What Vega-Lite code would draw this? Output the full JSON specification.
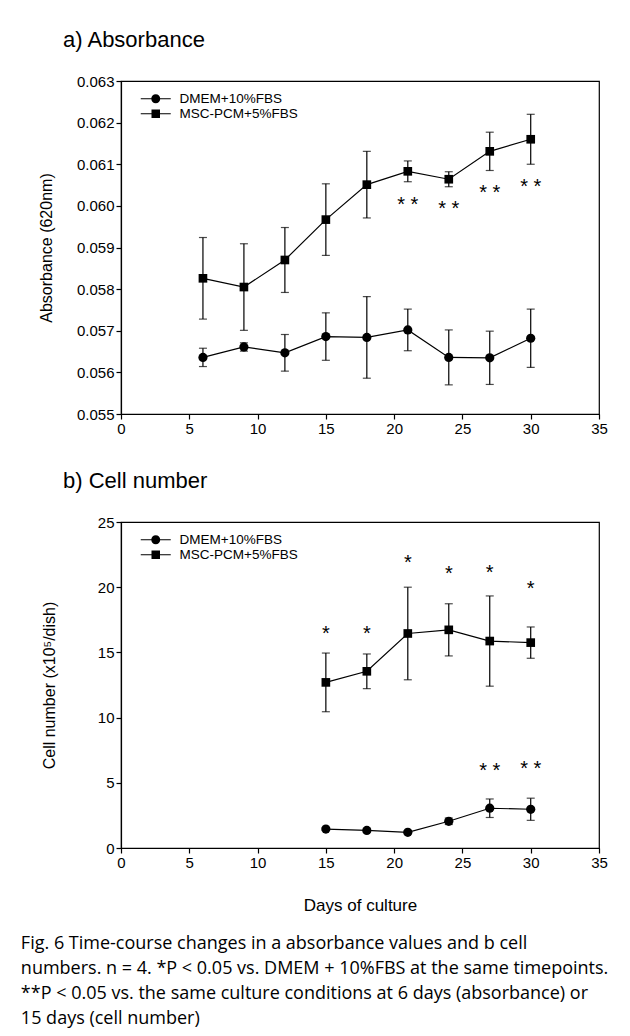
{
  "$schema": "https://vega.github.io/schema/vega-lite/v6.json",
  "background": "white",
  "padding": {"left": 20, "top": 28, "right": 5, "bottom": 5},
  "autosize": {"type": "pad"},
  "config": {
    "font": "Liberation Sans",
    "view": {"stroke": "black", "strokeWidth": 1.2},
    "axis": {"domainColor": "black", "domainWidth": 1.2, "tickColor": "black", "tickSize": 5, "tickWidth": 1.2, "labelColor": "black", "labelFont": "Liberation Sans", "labelFontSize": 15, "titleFont": "Liberation Sans", "titleFontSize": 16, "titleFontWeight": "normal", "titleColor": "black", "grid": false, "labelFlush": false, "labelOverlap": false},
    "legend": {"orient": "none", "legendX": 28, "legendY": 11, "title": null, "symbolSize": 100, "labelFontSize": 13.5, "labelFont": "Liberation Sans", "labelColor": "black", "labelOffset": 17, "symbolOpacity": 1, "symbolFillColor": "black", "symbolStrokeColor": "black", "symbolStrokeWidth": 0, "rowPadding": 0, "padding": 0},
    "concat": {"spacing": 32}
  },
  "datasets": {
    "abs": [
      {"series": "DMEM+10%FBS", "day": 6, "mean": 0.05636, "err": 0.00022},
      {"series": "DMEM+10%FBS", "day": 9, "mean": 0.05661, "err": 0.0001},
      {"series": "DMEM+10%FBS", "day": 12, "mean": 0.05647, "err": 0.00044},
      {"series": "DMEM+10%FBS", "day": 15, "mean": 0.05686, "err": 0.00057},
      {"series": "DMEM+10%FBS", "day": 18, "mean": 0.05684, "err": 0.00098},
      {"series": "DMEM+10%FBS", "day": 21, "mean": 0.05702, "err": 0.0005},
      {"series": "DMEM+10%FBS", "day": 24, "mean": 0.05636, "err": 0.00066},
      {"series": "DMEM+10%FBS", "day": 27, "mean": 0.05635, "err": 0.00064},
      {"series": "DMEM+10%FBS", "day": 30, "mean": 0.05682, "err": 0.0007},
      {"series": "MSC-PCM+5%FBS", "day": 6, "mean": 0.05826, "err": 0.00098},
      {"series": "MSC-PCM+5%FBS", "day": 9, "mean": 0.05805, "err": 0.00104},
      {"series": "MSC-PCM+5%FBS", "day": 12, "mean": 0.0587, "err": 0.00078},
      {"series": "MSC-PCM+5%FBS", "day": 15, "mean": 0.05967, "err": 0.00086},
      {"series": "MSC-PCM+5%FBS", "day": 18, "mean": 0.06051, "err": 0.0008},
      {"series": "MSC-PCM+5%FBS", "day": 21, "mean": 0.06083, "err": 0.00025},
      {"series": "MSC-PCM+5%FBS", "day": 24, "mean": 0.06064, "err": 0.00018},
      {"series": "MSC-PCM+5%FBS", "day": 27, "mean": 0.06131, "err": 0.00046},
      {"series": "MSC-PCM+5%FBS", "day": 30, "mean": 0.0616, "err": 0.0006}
    ],
    "cell": [
      {"series": "DMEM+10%FBS", "day": 15, "mean": 1.45, "err": 0.1},
      {"series": "DMEM+10%FBS", "day": 18, "mean": 1.35, "err": 0.12},
      {"series": "DMEM+10%FBS", "day": 21, "mean": 1.2, "err": 0.1},
      {"series": "DMEM+10%FBS", "day": 24, "mean": 2.05, "err": 0.25},
      {"series": "DMEM+10%FBS", "day": 27, "mean": 3.05, "err": 0.71},
      {"series": "DMEM+10%FBS", "day": 30, "mean": 2.97, "err": 0.85},
      {"series": "MSC-PCM+5%FBS", "day": 15, "mean": 12.7, "err": 2.25},
      {"series": "MSC-PCM+5%FBS", "day": 18, "mean": 13.55, "err": 1.33},
      {"series": "MSC-PCM+5%FBS", "day": 21, "mean": 16.45, "err": 3.55},
      {"series": "MSC-PCM+5%FBS", "day": 24, "mean": 16.73, "err": 2.0},
      {"series": "MSC-PCM+5%FBS", "day": 27, "mean": 15.87, "err": 3.46},
      {"series": "MSC-PCM+5%FBS", "day": 30, "mean": 15.75, "err": 1.2}
    ],
    "absStars": [
      {"day": 21, "y": 0.06016, "label": "* *"},
      {"day": 24, "y": 0.06006, "label": "* *"},
      {"day": 27, "y": 0.06044, "label": "* *"},
      {"day": 30, "y": 0.06058, "label": "* *"}
    ],
    "cellStars": [
      {"day": 15, "y": 16.85, "label": "*"},
      {"day": 18, "y": 16.85, "label": "*"},
      {"day": 21, "y": 22.3, "label": "*"},
      {"day": 24, "y": 21.4, "label": "*"},
      {"day": 27, "y": 21.5, "label": "*"},
      {"day": 30, "y": 20.3, "label": "*"},
      {"day": 27, "y": 6.3, "label": "* *"},
      {"day": 30, "y": 6.5, "label": "* *"}
    ]
  },
  "vconcat": [
    {
      "width": 478,
      "height": 333,
      "title": {"text": "a) Absorbance", "anchor": "start", "frame": "group", "dx": -58, "offset": 5, "baseline": "alphabetic", "fontSize": 22, "fontWeight": "normal", "font": "Liberation Sans", "color": "black"},
      "layer": [
        {
          "data": {"name": "abs"},
          "mark": {"type": "line", "color": "black", "strokeWidth": 1.2},
          "encoding": {
            "x": {"field": "day", "type": "quantitative", "scale": {"domain": [0, 35], "nice": false}, "axis": {"values": [0, 5, 10, 15, 20, 25, 30, 35], "title": null, "labelPadding": 2}},
            "y": {"field": "mean", "type": "quantitative", "title": "Absorbance (620nm)", "scale": {"domain": [0.055, 0.063], "nice": false, "zero": false}, "axis": {"values": [0.055, 0.056, 0.057, 0.058, 0.059, 0.06, 0.061, 0.062, 0.063], "format": ".3f", "title": "Absorbance (620nm)", "titlePadding": 22, "labelPadding": 2}},
            "detail": {"field": "series", "type": "nominal"}
          }
        },
        {
          "data": {"name": "abs"},
          "mark": {"type": "errorbar", "color": "black", "thickness": 1.2, "ticks": {"size": 8, "color": "black"}},
          "encoding": {
            "x": {"field": "day", "type": "quantitative", "title": null},
            "y": {"field": "mean", "type": "quantitative", "title": "Absorbance (620nm)"},
            "yError": {"field": "err"},
            "detail": {"field": "series", "type": "nominal"}
          }
        },
        {
          "data": {"name": "abs"},
          "transform": [{"filter": "datum.series === 'DMEM+10%FBS'"}],
          "mark": {"type": "point", "shape": "circle", "filled": true, "size": 85, "color": "black", "opacity": 1},
          "encoding": {"x": {"field": "day", "type": "quantitative", "title": null}, "y": {"field": "mean", "type": "quantitative", "title": "Absorbance (620nm)"}}
        },
        {
          "data": {"name": "abs"},
          "transform": [{"filter": "datum.series === 'MSC-PCM+5%FBS'"}],
          "mark": {"type": "point", "shape": "square", "filled": true, "size": 75, "color": "black", "opacity": 1},
          "encoding": {"x": {"field": "day", "type": "quantitative", "title": null}, "y": {"field": "mean", "type": "quantitative", "title": "Absorbance (620nm)"}}
        },
        {
          "data": {"name": "abs"},
          "mark": {"type": "point", "filled": true, "color": "black", "opacity": 0},
          "encoding": {
            "x": {"field": "day", "type": "quantitative", "title": null},
            "y": {"field": "mean", "type": "quantitative", "title": "Absorbance (620nm)"},
            "shape": {"field": "series", "type": "nominal", "scale": {"domain": ["DMEM+10%FBS", "MSC-PCM+5%FBS"], "range": ["M-3,-0.12H3V0.12H-3ZM0.9,0A0.9,0.9,0,1,1,-0.9,0A0.9,0.9,0,1,1,0.9,0Z", "M-3,-0.12H3V0.12H-3ZM-0.85,-0.85H0.85V0.85H-0.85Z"]}, "legend": {"encode": {"symbols": {"fill": {"value": "black"}, "opacity": {"value": 1}}}}}
          }
        },
        {
          "data": {"name": "absStars"},
          "mark": {"type": "text", "fontSize": 20, "baseline": "alphabetic", "dy": 11.4, "color": "black", "font": "Liberation Sans"},
          "encoding": {"x": {"field": "day", "type": "quantitative", "title": null}, "y": {"field": "y", "type": "quantitative", "title": "Absorbance (620nm)"}, "text": {"field": "label"}}
        },
        {
          "mark": {"type": "text", "align": "left", "baseline": "middle", "fontSize": 14, "color": "black", "font": "Liberation Sans"},
          "encoding": {"x": {"datum": 1.25, "type": "quantitative"}, "y": {"datum": 0.0615, "type": "quantitative"}, "text": {"value": "n = 4"}}
        }
      ]
    },
    {
      "width": 478,
      "height": 326,
      "title": {"text": "b) Cell number", "anchor": "start", "frame": "group", "dx": -58, "offset": 5, "baseline": "alphabetic", "fontSize": 22, "fontWeight": "normal", "font": "Liberation Sans", "color": "black"},
      "layer": [
        {
          "data": {"name": "cell"},
          "mark": {"type": "line", "color": "black", "strokeWidth": 1.2},
          "encoding": {
            "x": {"field": "day", "type": "quantitative", "title": "Days of culture", "scale": {"domain": [0, 35], "nice": false}, "axis": {"values": [0, 5, 10, 15, 20, 25, 30, 35], "title": "Days of culture", "titleFontSize": 17, "titlePadding": 27, "labelPadding": 2}},
            "y": {"field": "mean", "type": "quantitative", "title": "Cell number (x10⁵/dish)", "scale": {"domain": [0, 25], "nice": false}, "axis": {"values": [0, 5, 10, 15, 20, 25], "title": "Cell number (x10⁵/dish)", "titlePadding": 40, "labelPadding": 2}},
            "detail": {"field": "series", "type": "nominal"}
          }
        },
        {
          "data": {"name": "cell"},
          "mark": {"type": "errorbar", "color": "black", "thickness": 1.2, "ticks": {"size": 8, "color": "black"}},
          "encoding": {
            "x": {"field": "day", "type": "quantitative", "title": "Days of culture"},
            "y": {"field": "mean", "type": "quantitative", "title": "Cell number (x10⁵/dish)"},
            "yError": {"field": "err"},
            "detail": {"field": "series", "type": "nominal"}
          }
        },
        {
          "data": {"name": "cell"},
          "transform": [{"filter": "datum.series === 'DMEM+10%FBS'"}],
          "mark": {"type": "point", "shape": "circle", "filled": true, "size": 85, "color": "black", "opacity": 1},
          "encoding": {"x": {"field": "day", "type": "quantitative", "title": "Days of culture"}, "y": {"field": "mean", "type": "quantitative", "title": "Cell number (x10⁵/dish)"}}
        },
        {
          "data": {"name": "cell"},
          "transform": [{"filter": "datum.series === 'MSC-PCM+5%FBS'"}],
          "mark": {"type": "point", "shape": "square", "filled": true, "size": 75, "color": "black", "opacity": 1},
          "encoding": {"x": {"field": "day", "type": "quantitative", "title": "Days of culture"}, "y": {"field": "mean", "type": "quantitative", "title": "Cell number (x10⁵/dish)"}}
        },
        {
          "data": {"name": "cell"},
          "mark": {"type": "point", "filled": true, "color": "black", "opacity": 0},
          "encoding": {
            "x": {"field": "day", "type": "quantitative", "title": "Days of culture"},
            "y": {"field": "mean", "type": "quantitative", "title": "Cell number (x10⁵/dish)"},
            "shape": {"field": "series", "type": "nominal", "scale": {"domain": ["DMEM+10%FBS", "MSC-PCM+5%FBS"], "range": ["M-3,-0.12H3V0.12H-3ZM0.9,0A0.9,0.9,0,1,1,-0.9,0A0.9,0.9,0,1,1,0.9,0Z", "M-3,-0.12H3V0.12H-3ZM-0.85,-0.85H0.85V0.85H-0.85Z"]}, "legend": {"encode": {"symbols": {"fill": {"value": "black"}, "opacity": {"value": 1}}}}}
          }
        },
        {
          "data": {"name": "cellStars"},
          "mark": {"type": "text", "fontSize": 20, "baseline": "alphabetic", "dy": 11.4, "color": "black", "font": "Liberation Sans"},
          "encoding": {"x": {"field": "day", "type": "quantitative", "title": "Days of culture"}, "y": {"field": "y", "type": "quantitative", "title": "Cell number (x10⁵/dish)"}, "text": {"field": "label"}}
        },
        {
          "mark": {"type": "text", "align": "left", "baseline": "middle", "fontSize": 14, "color": "black", "font": "Liberation Sans"},
          "encoding": {"x": {"datum": 1.25, "type": "quantitative"}, "y": {"datum": 20, "type": "quantitative"}, "text": {"value": "n = 4"}}
        }
      ]
    }
  ],
  "resolve": {"scale": {"shape": "independent"}, "legend": {"shape": "independent"}},
  "title": {
    "text": ["Fig. 6  Time-course changes in a absorbance values and b cell", "numbers. n = 4. *P < 0.05 vs. DMEM + 10%FBS at the same timepoints.", "**P < 0.05 vs. the same culture conditions at 6 days (absorbance) or", "15 days (cell number)"],
    "orient": "bottom", "anchor": "start", "frame": "bounds", "dx": -17, "offset": 21, "baseline": "top",
    "font": "Open Sans", "fontSize": 18, "fontWeight": "normal", "lineHeight": 25.3, "color": "black"
  }
}
